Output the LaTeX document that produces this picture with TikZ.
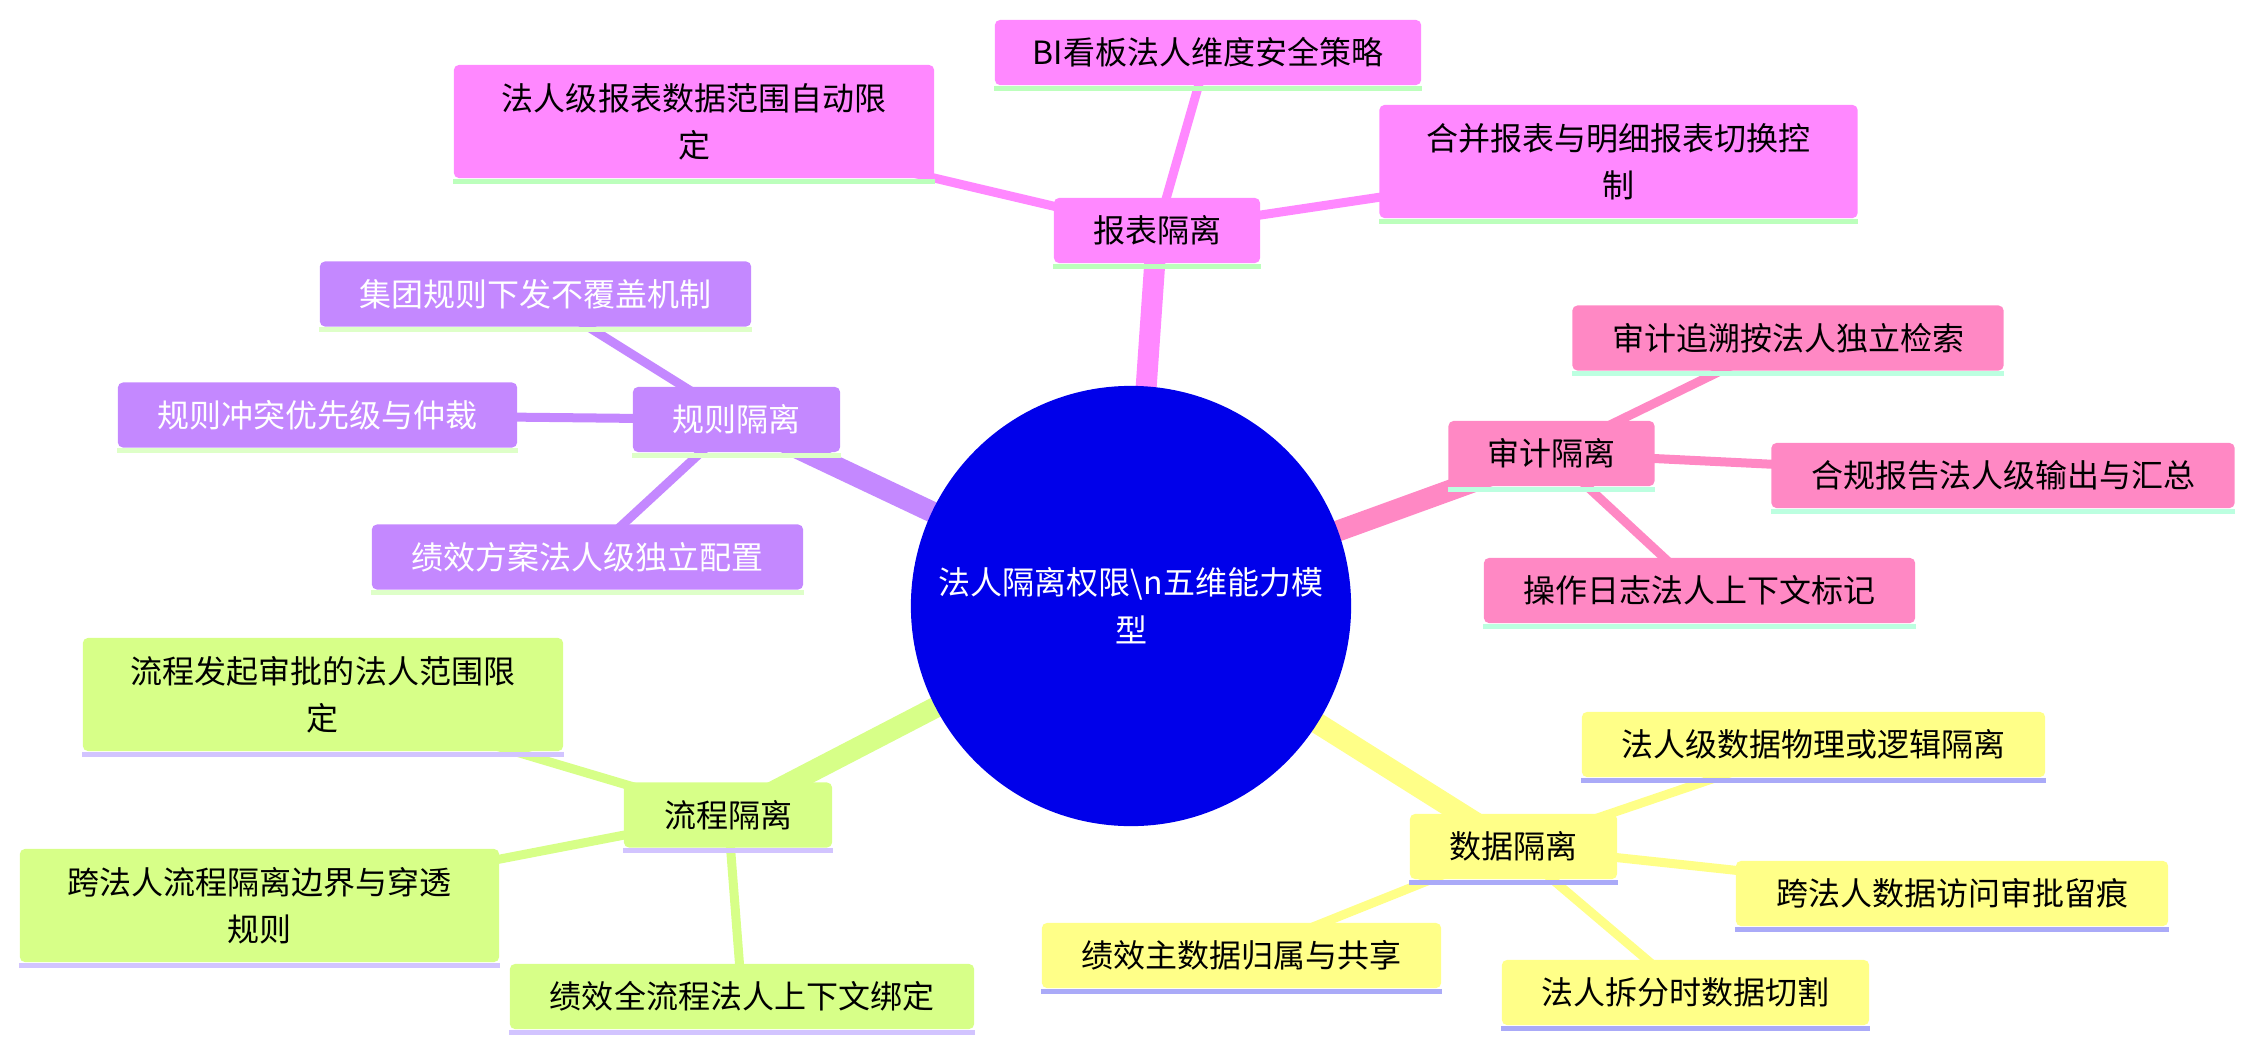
\documentclass[tikz,border=0pt]{standalone}
\usepackage{fontspec}
\setmainfont{Noto Sans CJK SC}
\pgfdeclarelayer{bg}
\pgfsetlayers{bg,main}
\definecolor{rootblue}{RGB}{0,0,234}
\definecolor{cA}{HTML}{FF88FF}
\definecolor{sA}{HTML}{BCFFBC}
\definecolor{cB}{HTML}{C488FF}
\definecolor{sB}{HTML}{DEFFC8}
\definecolor{cC}{HTML}{FF88C4}
\definecolor{sC}{HTML}{BCFFE0}
\definecolor{cD}{HTML}{D7FF88}
\definecolor{sD}{HTML}{D2C4FF}
\definecolor{cE}{HTML}{FFFF88}
\definecolor{sE}{HTML}{AAAAF8}
\newcommand\mmstripe[2]{\fill[#2] (#1.south west) rectangle ([yshift=-0.05cm]#1.south east);}
\begin{document}
\begin{tikzpicture}[x=0.01cm,y=-0.01cm,
  mmbox/.style={rectangle, rounded corners=0.05cm, inner sep=0pt, align=center,
    minimum height=0.65cm, font=\fontsize{9.1pt}{13.4pt}\selectfont},
  tall/.style={minimum height=1.13cm},
  mainedge/.style={line width=0.21cm},
  subedge/.style={line width=0.09cm}]
\useasboundingbox (0,0) rectangle (2254,1051);

% root
\node[circle, fill=rootblue, minimum size=4.4cm, inner sep=0pt, text=white, align=center,
  font=\fontsize{9.1pt}{13.6pt}\selectfont] (root) at (1131,606)
  {法人隔离权限\textbackslash n五维能力模\\型};

% section A: reports
\node[mmbox, fill=cA, minimum width=2.06cm] (bb) at (1157,230.5) {报表隔离};
\node[mmbox, tall, fill=cA, minimum width=4.8cm] (b1) at (694,121.5) {法人级报表数据范围自动限\\定};
\node[mmbox, fill=cA, minimum width=4.26cm] (b2) at (1208,52.5) {BI看板法人维度安全策略};
\node[mmbox, tall, fill=cA, minimum width=4.78cm] (b3) at (1618.5,161.5) {合并报表与明细报表切换控\\制};
\mmstripe{bb}{sA}\mmstripe{b1}{sA}\mmstripe{b2}{sA}\mmstripe{b3}{sA}

% section B: rules
\node[mmbox, fill=cB, text=white, minimum width=2.07cm] (rr) at (736.5,419.5) {规则隔离};
\node[mmbox, fill=cB, text=white, minimum width=4.31cm] (r1) at (535.5,294) {集团规则下发不覆盖机制};
\node[mmbox, fill=cB, text=white, minimum width=3.99cm] (r2) at (317.5,415) {规则冲突优先级与仲裁};
\node[mmbox, fill=cB, text=white, minimum width=4.31cm] (r3) at (587.5,557) {绩效方案法人级独立配置};
\mmstripe{rr}{sB}\mmstripe{r1}{sB}\mmstripe{r2}{sB}\mmstripe{r3}{sB}

% section C: audit
\node[mmbox, fill=cC, minimum width=2.06cm] (aa) at (1551.5,453.5) {审计隔离};
\node[mmbox, fill=cC, minimum width=4.31cm] (a1) at (1788,338) {审计追溯按法人独立检索};
\node[mmbox, fill=cC, minimum width=4.63cm] (a2) at (2003,475.5) {合规报告法人级输出与汇总};
\node[mmbox, fill=cC, minimum width=4.31cm] (a3) at (1699.5,590.5) {操作日志法人上下文标记};
\mmstripe{aa}{sC}\mmstripe{a1}{sC}\mmstripe{a2}{sC}\mmstripe{a3}{sC}

% section D: process
\node[mmbox, fill=cD, minimum width=2.08cm] (pp) at (728,815) {流程隔离};
\node[mmbox, tall, fill=cD, minimum width=4.8cm] (p1) at (323,694.5) {流程发起审批的法人范围限\\定};
\node[mmbox, tall, fill=cD, minimum width=4.79cm] (p2) at (259.5,905.5) {跨法人流程隔离边界与穿透\\规则};
\node[mmbox, fill=cD, minimum width=4.64cm] (p3) at (742,996.5) {绩效全流程法人上下文绑定};
\mmstripe{pp}{sD}\mmstripe{p1}{sD}\mmstripe{p2}{sD}\mmstripe{p3}{sD}

% section E: data
\node[mmbox, fill=cE, minimum width=2.07cm] (dd) at (1513.5,846.5) {数据隔离};
\node[mmbox, fill=cE, minimum width=4.63cm] (d1) at (1813.5,744.5) {法人级数据物理或逻辑隔离};
\node[mmbox, fill=cE, minimum width=4.32cm] (d2) at (1952,893.5) {跨法人数据访问审批留痕};
\node[mmbox, fill=cE, minimum width=3.99cm] (d3) at (1241.5,955.5) {绩效主数据归属与共享};
\node[mmbox, fill=cE, minimum width=3.67cm] (d4) at (1685.5,992.5) {法人拆分时数据切割};
\mmstripe{dd}{sE}\mmstripe{d1}{sE}\mmstripe{d2}{sE}\mmstripe{d3}{sE}\mmstripe{d4}{sE}

\begin{pgfonlayer}{bg}
\draw[mainedge, cA] (root.center) -- (bb.center);
\draw[mainedge, cB] (root.center) -- (rr.center);
\draw[mainedge, cC] (root.center) -- (aa.center);
\draw[mainedge, cD] (root.center) -- (pp.center);
\draw[mainedge, cE] (root.center) -- (dd.center);
\draw[subedge, cA] (bb.center) -- (b1.center);
\draw[subedge, cA] (bb.center) -- (b2.center);
\draw[subedge, cA] (bb.center) -- (b3.center);
\draw[subedge, cB] (rr.center) -- (r1.center);
\draw[subedge, cB] (rr.center) -- (r2.center);
\draw[subedge, cB] (rr.center) -- (r3.center);
\draw[subedge, cC] (aa.center) -- (a1.center);
\draw[subedge, cC] (aa.center) -- (a2.center);
\draw[subedge, cC] (aa.center) -- (a3.center);
\draw[subedge, cD] (pp.center) -- (p1.center);
\draw[subedge, cD] (pp.center) -- (p2.center);
\draw[subedge, cD] (pp.center) -- (p3.center);
\draw[subedge, cE] (dd.center) -- (d1.center);
\draw[subedge, cE] (dd.center) -- (d2.center);
\draw[subedge, cE] (dd.center) -- (d3.center);
\draw[subedge, cE] (dd.center) -- (d4.center);
\end{pgfonlayer}
\end{tikzpicture}
\end{document}
